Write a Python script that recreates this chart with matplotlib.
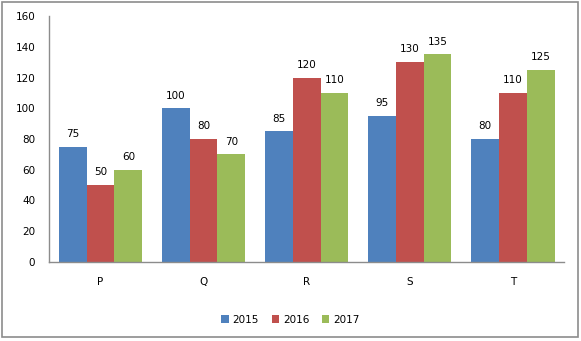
import numpy as np
import matplotlib
matplotlib.use('Agg')
import matplotlib.pyplot as plt
from matplotlib.patches import Rectangle

categories = ['P', 'Q', 'R', 'S', 'T']
years = ['2015', '2016', '2017']
v2015 = [75, 100, 85, 95, 80]
v2016 = [50, 80, 120, 130, 110]
v2017 = [60, 70, 110, 135, 125]
colors = ['#4F81BD', '#C0504D', '#9BBB59']

fig = plt.figure(figsize=(5.81, 3.41), dpi=100)
fig.patches.append(Rectangle((0.004, 0.012), 0.99, 0.982, transform=fig.transFigure,
                             fill=False, edgecolor='#8c8c8c', linewidth=1.2))
ax = fig.add_axes([0.0843, 0.2317, 0.887, 0.7213])

x = np.arange(len(categories))
w = 0.27
for i, (vals, c, lab) in enumerate(zip([v2015, v2016, v2017], colors, years)):
    pos = x + (i - 1) * w
    ax.bar(pos, vals, width=w, color=c, label=lab)
    for px, v in zip(pos, vals):
        ax.text(px, v + 5, str(v), ha='center', va='bottom', fontsize=7.5)

ax.set_xlim(-0.5, len(categories) - 0.5)
ax.set_ylim(0, 160)
ax.set_yticks(range(0, 161, 20))
ax.set_xticks(x)
ax.set_xticklabels(categories)
ax.tick_params(axis='y', length=0, labelsize=7.5, pad=10)
ax.tick_params(axis='x', length=0, labelsize=7.5, pad=11)
for s in ['top', 'right']:
    ax.spines[s].set_visible(False)
for s in ['left', 'bottom']:
    ax.spines[s].set_color('#8c8c8c')
    ax.spines[s].set_linewidth(1.0)

fig.legend(loc='center', bbox_to_anchor=(0.5, 0.063), ncol=3, frameon=False,
           fontsize=7.5, handlelength=0.7, handleheight=0.7, handletextpad=0.4,
           columnspacing=1.2)

fig.savefig('out.png', dpi=100)
